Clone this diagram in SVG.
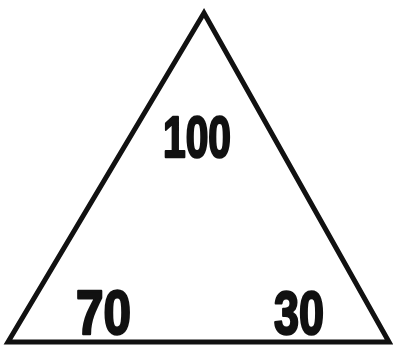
<svg xmlns="http://www.w3.org/2000/svg" width="393" height="360" viewBox="0 0 393 360">
<style>
.t{font-family:"Liberation Sans",Arial,sans-serif;font-weight:bold;fill:#111;stroke:#111;stroke-width:2.5;stroke-linejoin:round;}
</style>
<rect width="393" height="360" fill="#fff"/>
<g id="triangle">
<polygon points="204,13 8,342 389,342" fill="none" stroke="#111" stroke-width="5" stroke-linejoin="miter"/>
</g>
<g id="top"><text class="t" x="163" y="157" font-size="58" textLength="68" lengthAdjust="spacingAndGlyphs">100</text></g>
<g id="left"><text class="t" x="76" y="334" font-size="63" textLength="55" lengthAdjust="spacingAndGlyphs">70</text></g>
<g id="right"><text class="t" x="274" y="334" font-size="61" textLength="50" lengthAdjust="spacingAndGlyphs">30</text></g>
</svg>
